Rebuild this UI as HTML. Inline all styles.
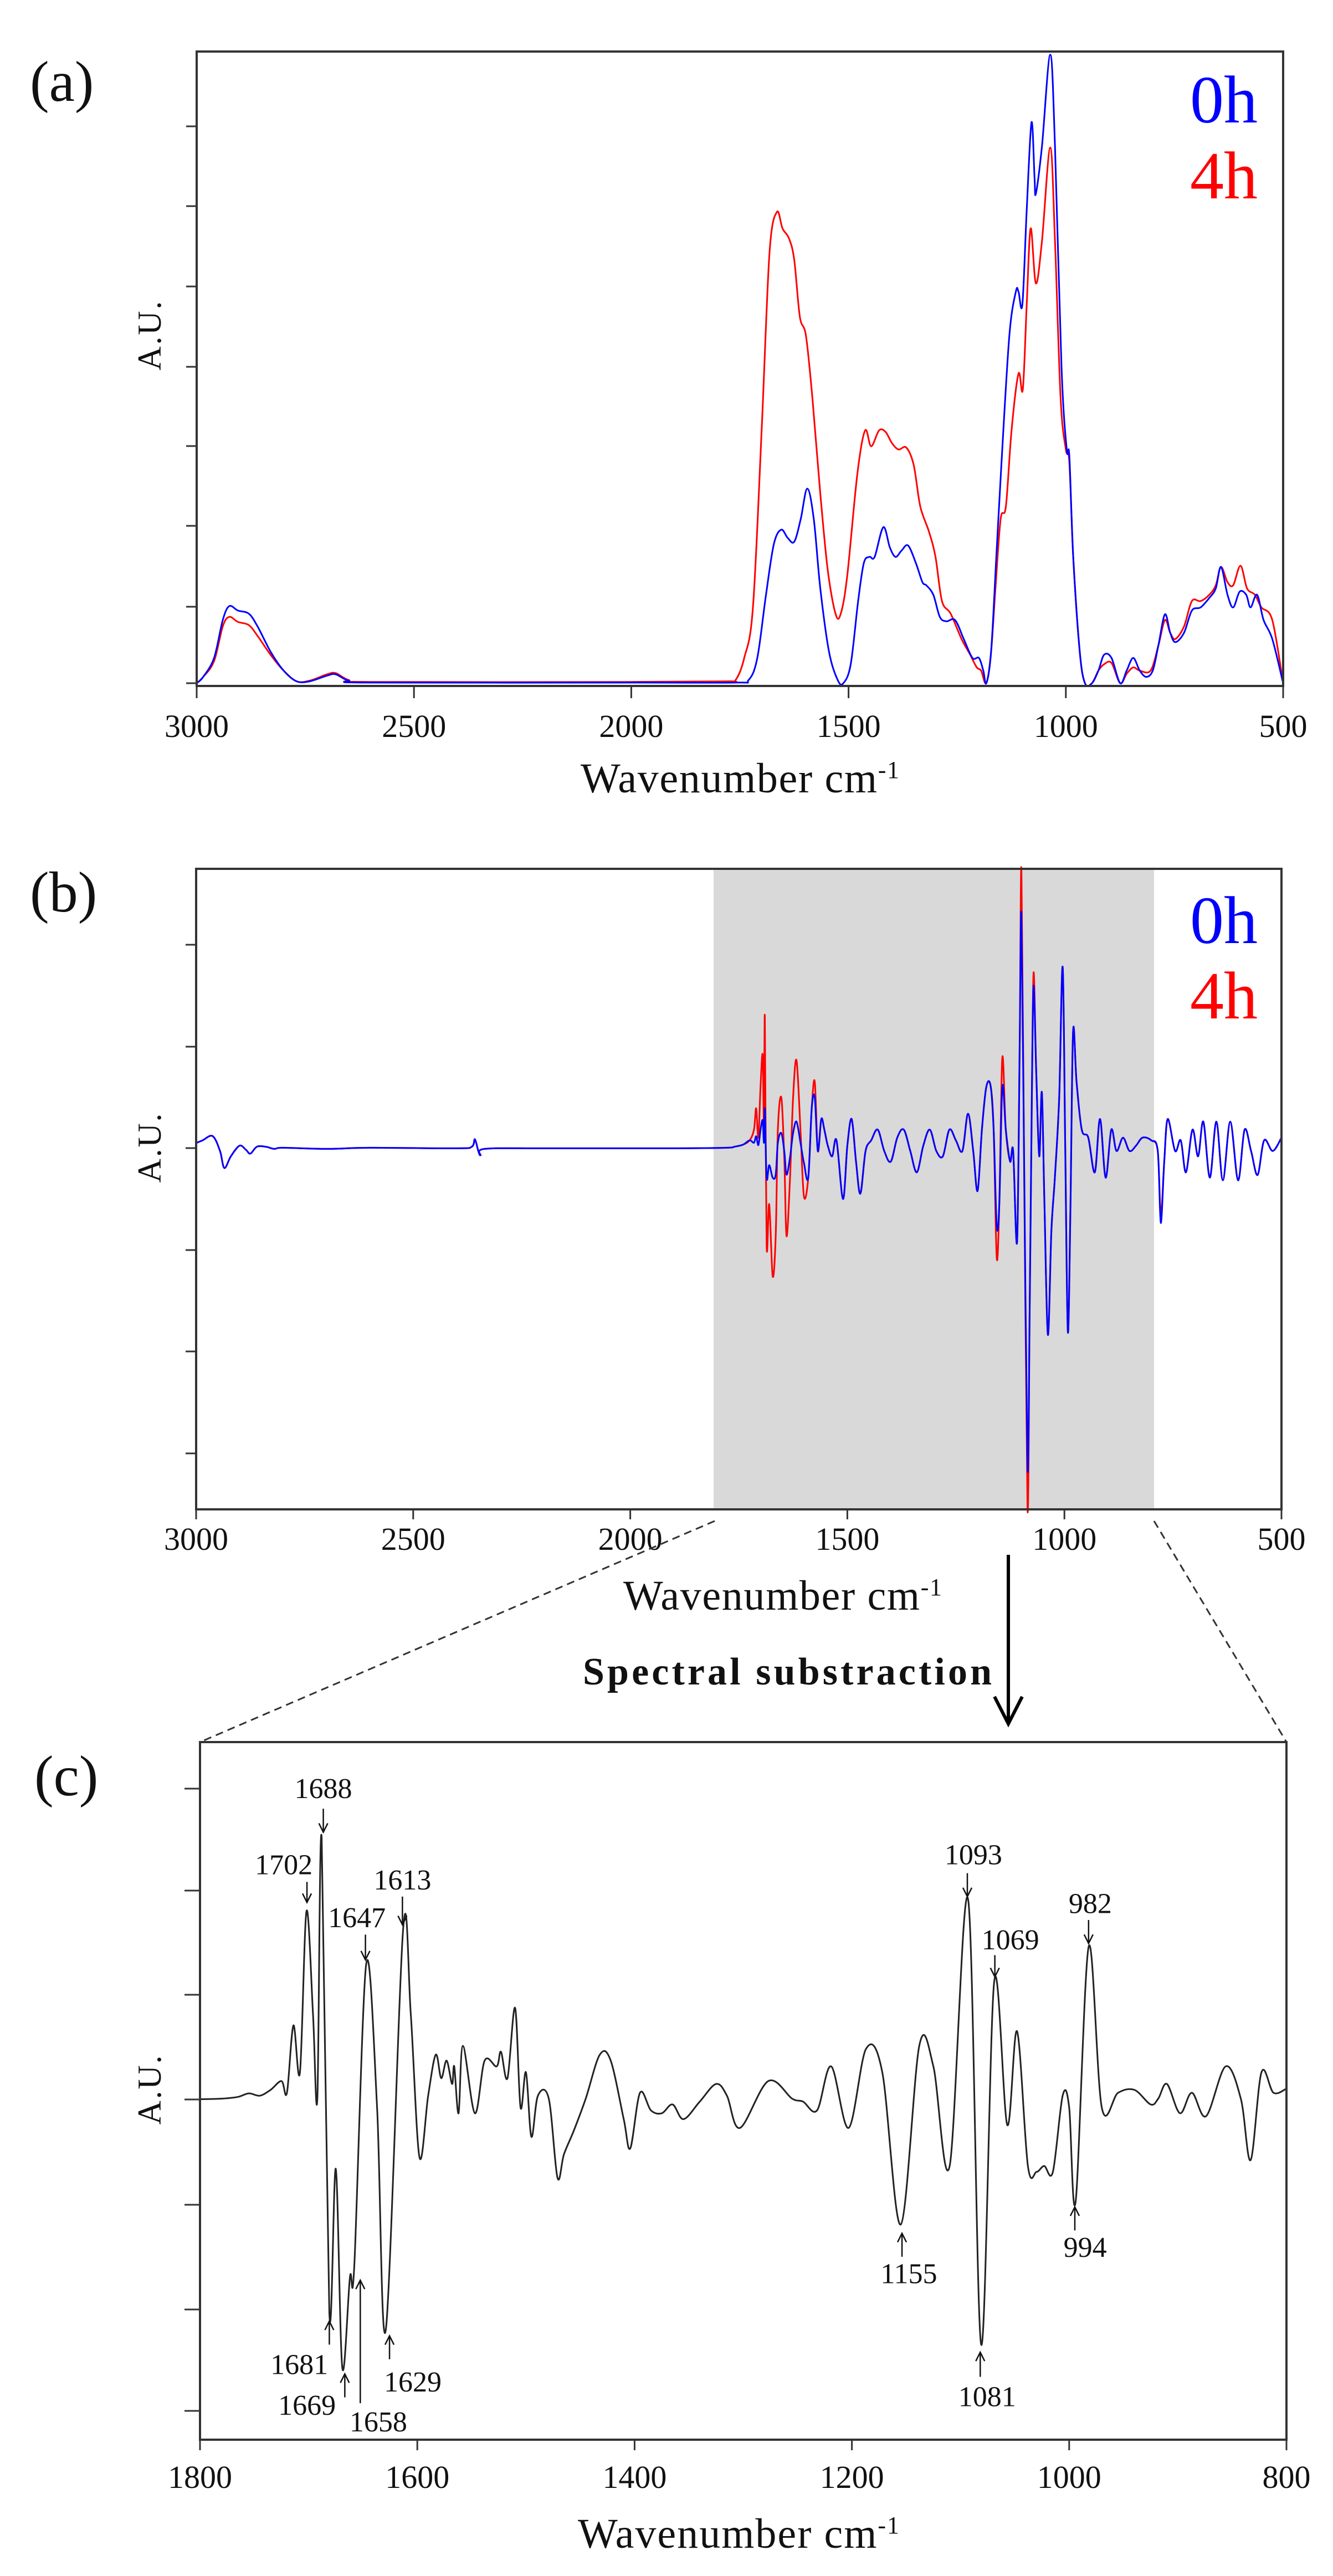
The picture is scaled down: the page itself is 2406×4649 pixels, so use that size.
<!DOCTYPE html>
<html><head><meta charset="utf-8"><style>
html,body{margin:0;padding:0;background:#fff;}
svg{display:block;}
text{font-family:"Liberation Serif",serif;fill:#111;}
</style></head><body>
<svg id="s" width="2406" height="4649" viewBox="0 0 2406 4649" xmlns="http://www.w3.org/2000/svg">
<rect x="0" y="0" width="2406" height="4649" fill="#fff"/>
<rect x="1288" y="1568" width="795" height="1156" fill="#d9d9d9"/>
<g id="g"></g>
<text x="54" y="182" font-size="104">(a)</text>
<text x="54" y="1645" font-size="104">(b)</text>
<text x="62" y="3240" font-size="104">(c)</text>
<text x="2148" y="221" font-size="122" style="fill:#0000ff">0h</text>
<text x="2148" y="358" font-size="122" style="fill:#ff0000">4h</text>
<text x="2148" y="1702" font-size="122" style="fill:#0000ff">0h</text>
<text x="2148" y="1838" font-size="122" style="fill:#ff0000">4h</text>
<text transform="translate(290,606) rotate(-90)" text-anchor="middle" font-size="60" textLength="125">A.U.</text>
<text transform="translate(290,2072) rotate(-90)" text-anchor="middle" font-size="60" textLength="125">A.U.</text>
<text transform="translate(290,3772) rotate(-90)" text-anchor="middle" font-size="60" textLength="125">A.U.</text>
<text x="1048" y="1430" font-size="76" textLength="575">Wavenumber cm<tspan dy="-26" font-size="44">-1</tspan></text>
<text x="1125" y="2905" font-size="76" textLength="575">Wavenumber cm<tspan dy="-26" font-size="44">-1</tspan></text>
<text x="1043" y="4598" font-size="76" textLength="580">Wavenumber cm<tspan dy="-26" font-size="44">-1</tspan></text>
<text x="1052" y="3040" font-size="70" font-weight="bold" textLength="738">Spectral substraction</text>
</svg>
<script>
const NS="http://www.w3.org/2000/svg";
const G=document.getElementById('g');
function el(t,a,p){const e=document.createElementNS(NS,t);for(const k in a)e.setAttribute(k,a[k]);(p||G).appendChild(e);return e;}
function txt(x,y,s,fs,anchor){const e=el('text',{x:x,y:y,'font-size':fs,'text-anchor':anchor||'middle'});e.textContent=s;return e;}
function cr(pts){let d='M'+pts[0][0].toFixed(1)+','+pts[0][1].toFixed(1);
 for(let i=0;i<pts.length-1;i++){const p0=pts[Math.max(0,i-1)],p1=pts[i],p2=pts[i+1],p3=pts[Math.min(pts.length-1,i+2)];
 const c1=[p1[0]+(p2[0]-p0[0])/6,p1[1]+(p2[1]-p0[1])/6],c2=[p2[0]-(p3[0]-p1[0])/6,p2[1]-(p3[1]-p1[1])/6];
 d+='C'+c1[0].toFixed(1)+','+c1[1].toFixed(1)+' '+c2[0].toFixed(1)+','+c2[1].toFixed(1)+' '+p2[0].toFixed(1)+','+p2[1].toFixed(1);}
 return d;}
const xA=w=>355+(3000-w)/2500*(2316-355), yA=h=>1233-h*(1233-93);
const blueA=[[3000,0],[2985,0.01],[2960,0.04],[2940,0.1],[2925,0.122],[2905,0.115],[2880,0.11],[2860,0.09],[2830,0.05],[2800,0.02],[2770,0.003],[2740,0.003],[2700,0.012],[2680,0.014],[2650,0.004],[2600,0.001],[2000,0.001],[1760,0.001],[1730,0.005],[1710,0.04],[1690,0.14],[1672,0.22],[1655,0.243],[1640,0.23],[1625,0.224],[1610,0.26],[1595,0.308],[1580,0.26],[1565,0.15],[1545,0.05],[1525,0.005],[1512,0.0],[1495,0.03],[1478,0.13],[1465,0.19],[1452,0.2],[1440,0.2],[1420,0.247],[1405,0.215],[1392,0.2],[1378,0.21],[1363,0.218],[1345,0.19],[1330,0.16],[1321,0.155],[1305,0.14],[1290,0.105],[1275,0.098],[1255,0.1],[1235,0.07],[1215,0.04],[1200,0.04],[1190,0.02],[1183,0.0],[1172,0.05],[1160,0.2],[1148,0.35],[1130,0.55],[1115,0.62],[1109,0.62],[1100,0.6],[1090,0.75],[1079,0.888],[1072,0.8],[1069,0.775],[1055,0.85],[1036,0.995],[1025,0.85],[1010,0.5],[998,0.37],[992,0.36],[983,0.2],[968,0.05],[956,0.0],[940,0.0],[925,0.02],[912,0.045],[895,0.04],[875,0.0],[860,0.02],[845,0.04],[830,0.02],[815,0.01],[800,0.02],[787,0.06],[772,0.109],[760,0.08],[748,0.065],[728,0.08],[710,0.115],[690,0.12],[670,0.135],[655,0.15],[643,0.184],[628,0.14],[615,0.12],[600,0.145],[585,0.14],[575,0.12],[560,0.14],[545,0.1],[525,0.07],[500,0.0]];
const redA=[[3000,0],[2985,0.01],[2960,0.035],[2940,0.09],[2925,0.105],[2905,0.097],[2880,0.092],[2860,0.075],[2830,0.045],[2800,0.02],[2770,0.003],[2740,0.004],[2700,0.014],[2680,0.016],[2650,0.005],[2600,0.002],[2000,0.002],[1780,0.003],[1760,0.005],[1740,0.04],[1720,0.12],[1700,0.4],[1682,0.68],[1665,0.746],[1652,0.72],[1637,0.704],[1625,0.67],[1612,0.58],[1598,0.55],[1583,0.45],[1565,0.3],[1548,0.18],[1530,0.11],[1518,0.11],[1503,0.17],[1480,0.33],[1462,0.4],[1448,0.375],[1430,0.4],[1415,0.398],[1400,0.38],[1385,0.37],[1367,0.373],[1350,0.345],[1335,0.28],[1315,0.24],[1300,0.2],[1285,0.13],[1265,0.11],[1240,0.07],[1220,0.045],[1205,0.025],[1195,0.02],[1183,0.0],[1172,0.05],[1162,0.15],[1150,0.26],[1138,0.28],[1125,0.4],[1109,0.49],[1099,0.465],[1090,0.6],[1081,0.72],[1069,0.633],[1055,0.7],[1036,0.848],[1025,0.7],[1012,0.45],[1000,0.37],[992,0.35],[983,0.2],[968,0.05],[956,0],[940,0],[925,0.02],[912,0.03],[895,0.032],[875,0],[860,0.015],[845,0.025],[830,0.02],[805,0.02],[787,0.06],[772,0.1],[760,0.08],[748,0.07],[728,0.09],[710,0.13],[690,0.13],[670,0.14],[655,0.155],[643,0.184],[628,0.16],[615,0.155],[598,0.186],[583,0.15],[565,0.14],[550,0.12],[525,0.1],[500,0]];
el('path',{d:cr(redA.map(p=>[xA(p[0]),yA(p[1])])),fill:'none',stroke:'#ff0000','stroke-width':3});
el('path',{d:cr(blueA.map(p=>[xA(p[0]),yA(p[1])])),fill:'none',stroke:'#0000ff','stroke-width':3});
const xB=w=>354+(3000-w)/2500*(2313-354), yB=d=>Math.max(1568,Math.min(2724,1500+d*0.962));
const redB=[[3000,585],[2985,580],[2962,572],[2945,600],[2935,632],[2920,610],[2900,590],[2885,598],[2875,605],[2860,592],[2840,592],[2820,596],[2800,594],[2700,596],[2600,594],[2400,595],[2365,592],[2358,578],[2350,600],[2345,608],[2335,596],[2200,595],[1900,595],[1780,594],[1760,592],[1740,588],[1725,580],[1715,560],[1710,520],[1705,575],[1700,480],[1695,420],[1692,560],[1690,348],[1686,775],[1680,700],[1672,835],[1665,760],[1660,560],[1652,500],[1645,620],[1640,760],[1632,650],[1625,500],[1617,430],[1608,560],[1600,685],[1590,650],[1582,520],[1575,470],[1568,600],[1560,540],[1553,560],[1545,590],[1535,610],[1525,580],[1510,690],[1500,590],[1490,540],[1480,620],[1470,680],[1458,600],[1445,580],[1430,560],[1415,600],[1400,620],[1385,575],[1370,560],[1355,600],[1340,640],[1325,590],[1310,560],[1295,600],[1280,610],[1265,560],[1250,580],[1235,600],[1222,530],[1210,600],[1200,675],[1190,560],[1180,480],[1170,478],[1163,560],[1156,800],[1150,700],[1143,425],[1135,560],[1125,620],[1118,600],[1109,770],[1103,400],[1099,60],[1093,600],[1085,1290],[1080,900],[1075,500],[1071,265],[1065,450],[1058,610],[1052,490],[1046,700],[1038,945],[1030,750],[1022,650],[1012,500],[1004,255],[998,600],[992,940],[986,700],[980,375],[972,470],[960,560],[945,575],[930,640],[918,540],[905,650],[892,560],[880,600],[865,575],[850,600],[835,590],[820,575],[800,580],[785,600],[778,720],[770,620],[762,540],[745,600],[732,580],[720,640],[705,560],[692,610],[680,545],[665,650],[650,545],[635,655],[618,545],[600,655],[585,560],[570,600],[555,645],[540,580],[520,600],[500,575]];
const ov={1099:155,1085:1195,1156:740,1143:480,1071:290,778:735,1575:500,1617:545,1672:650,1686:650};
const blueB=redB.map(p=>{let w=p[0],d=p[1];if(ov[w]!==undefined)return [w,ov[w]];if(w>=1595&&w<=1720)d=595+(d-595)*0.3;return [w,d];});
el('path',{d:cr(redB.map(p=>[xB(p[0]),yB(p[1])])),fill:'none',stroke:'#ff0000','stroke-width':3});
el('path',{d:cr(blueB.map(p=>[xB(p[0]),yB(p[1])])),fill:'none',stroke:'#0000ff','stroke-width':3});
const xC=w=>361+(1800-w)/1000*(2322-361), yC=d=>3000+d*1.057;
const C=[[1800,746],[1780,745],[1765,742],[1755,736],[1745,740],[1735,730],[1725,715],[1720,735],[1714,620],[1708,700],[1702,425],[1696,600],[1692,745],[1688,300],[1681,1110],[1675,865],[1669,1205],[1662,1050],[1658,1030],[1647,515],[1637,760],[1629,1140],[1613,455],[1606,600],[1598,845],[1590,740],[1583,670],[1578,710],[1573,680],[1568,720],[1566,690],[1562,770],[1558,655],[1547,770],[1538,680],[1527,690],[1523,665],[1517,710],[1510,590],[1505,760],[1500,700],[1495,810],[1489,740],[1479,745],[1471,880],[1465,840],[1456,800],[1445,745],[1432,670],[1422,680],[1410,780],[1404,830],[1395,735],[1385,765],[1375,770],[1365,755],[1355,780],[1340,750],[1325,720],[1315,740],[1303,795],[1277,715],[1255,745],[1245,750],[1232,765],[1219,690],[1203,795],[1187,660],[1172,700],[1155,960],[1138,655],[1125,690],[1110,860],[1093,405],[1081,1165],[1069,545],[1057,790],[1048,630],[1038,860],[1030,870],[1023,860],[1015,870],[1006,740],[1000,760],[994,920],[982,485],[970,760],[955,735],[940,730],[925,755],[918,745],[910,720],[898,770],[887,735],[874,775],[856,690],[842,745],[833,850],[823,700],[812,735],[800,728]];
el('path',{d:cr(C.map(p=>[xC(p[0]),yC(p[1])])),fill:'none',stroke:'#222','stroke-width':3});
function box(x1,y1,x2,y2){el('rect',{x:x1,y:y1,width:x2-x1,height:y2-y1,fill:'none',stroke:'#333','stroke-width':4});}
box(355,93,2316,1238);box(354,1568,2313,2724);box(361,3144,2322,4403);
[228,372,517,662,805,949,1095,1233].forEach(y=>el('line',{x1:336,y1:y,x2:355,y2:y,stroke:'#333','stroke-width':3}));
[1705,1889,2072,2256,2439,2623].forEach(y=>el('line',{x1:335,y1:y,x2:354,y2:y,stroke:'#333','stroke-width':3}));
[3228,3412,3600,3789,3979,4168,4351].forEach(y=>el('line',{x1:333,y1:y,x2:361,y2:y,stroke:'#333','stroke-width':3}));
[3000,2500,2000,1500,1000,500].forEach(w=>{let x=xA(w);el('line',{x1:x,y1:1238,x2:x,y2:1260,stroke:'#333','stroke-width':3});txt(x,1330,String(w),58);
 x=xB(w);el('line',{x1:x,y1:2724,x2:x,y2:2742,stroke:'#333','stroke-width':3});txt(x,2797,String(w),58);});
[1800,1600,1400,1200,1000,800].forEach(w=>{let x=xC(w);el('line',{x1:x,y1:4403,x2:x,y2:4422,stroke:'#333','stroke-width':3});txt(x,4490,String(w),58);});
el('line',{x1:1290,y1:2745,x2:361,y2:3144,stroke:'#333','stroke-width':3,'stroke-dasharray':'14,9'});
el('line',{x1:2083,y1:2745,x2:2322,y2:3144,stroke:'#333','stroke-width':3,'stroke-dasharray':'14,9'});
el('line',{x1:1820,y1:2806,x2:1820,y2:3108,stroke:'#000','stroke-width':6});
el('path',{d:'M1795,3062 L1820,3111 L1845,3062',fill:'none',stroke:'#000','stroke-width':6});
const X=v=>v*1.552, Y=v=>3000+v*1.057;
function ann(lbl,lx,ly,ax,a1,a2){txt(X(lx),Y(ly),lbl,52);
 const x=X(ax),y1=Y(a1),y2=Y(a2);el('line',{x1:x,y1:y1,x2:x,y2:y2,stroke:'#111','stroke-width':2.5});
 const s=y2>y1?-1:1;el('path',{d:`M${x-8},${y2+s*16} L${x},${y2} L${x+8},${y2+s*16}`,fill:'none',stroke:'#111','stroke-width':2.5});}
ann('1688',376,232,376,250,290);
ann('1702',330,362,357,375,410);
ann('1647',415,452,425,465,508);
ann('1613',468,388,468,400,448);
ann('1093',1132,345,1125,360,400);
ann('1069',1175,490,1157,500,537);
ann('982',1268,428,1266,440,480);
ann('1681',348,1215,383,1165,1125);
ann('1669',357,1285,401,1255,1215);
ann('1658',440,1313,419,1265,1055);
ann('1629',480,1245,453,1190,1150);
ann('1155',1057,1060,1049,1015,975);
ann('994',1262,1015,1250,970,930);
ann('1081',1148,1270,1140,1220,1178);
</script>
</body></html>
